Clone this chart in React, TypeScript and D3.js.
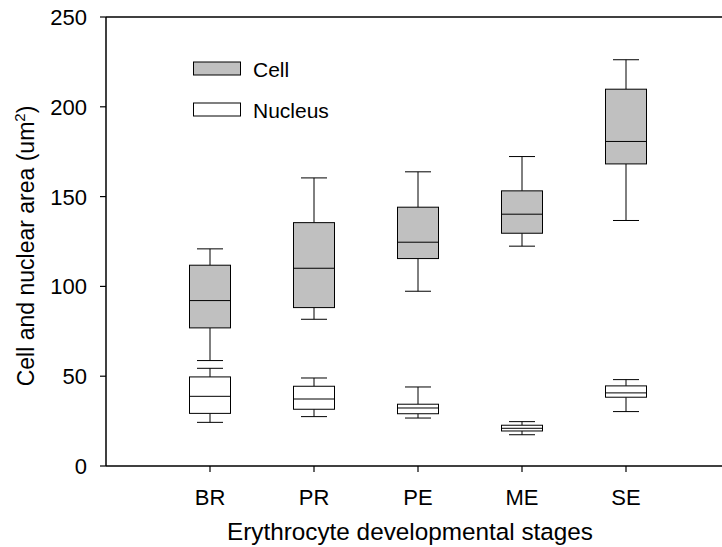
import React from "react";
import * as d3 from "d3";

const categories = ["BR", "PR", "PE", "ME", "SE"];
// [lowerWhisker, q1, median, q3, upperWhisker]
const cellStats = [
  [58.7, 76.9, 92.1, 111.8, 120.9],
  [81.7, 88.2, 110.1, 135.5, 160.4],
  [97.3, 115.5, 124.6, 144.1, 163.8],
  [122.4, 129.6, 140.2, 153.2, 172.3],
  [136.7, 168.2, 180.7, 209.8, 226.2],
];
const nucleusStats = [
  [24.3, 29.3, 38.8, 49.6, 54.4],
  [27.5, 31.6, 37.3, 44.4, 49.0],
  [26.7, 29.1, 32.3, 34.4, 44.0],
  [17.4, 19.5, 21.0, 22.7, 24.7],
  [30.3, 38.3, 40.7, 44.6, 48.1],
];
const yTicks = [0, 50, 100, 150, 200, 250];
const seriesNames = ["Cell", "Nucleus"];
const seriesFills = ["#c0c0c0", "#ffffff"];

const W = 722;
const H = 547;
const left = 106;
const top = 17;
const bottom = 466;

export default function App() {
  const x = d3.scalePoint<string>().domain(categories).range([210, 626]);
  const y = d3.scaleLinear().domain([0, 250]).range([bottom, top]);
  const boxW = 41;
  const capW = 26;
  const font = "Arial, 'Liberation Sans', sans-serif";

  const renderBoxes = (stats: number[][], fill: string, key: string) =>
    stats.map((s, i) => {
      const cx = x(categories[i])!;
      const [lo, q1, med, q3, hi] = s;
      return (
        <g key={key + i} stroke="#000" strokeWidth={1}>
          <line x1={cx} x2={cx} y1={y(hi)} y2={y(q3)} />
          <line x1={cx} x2={cx} y1={y(q1)} y2={y(lo)} />
          <line x1={cx - capW / 2} x2={cx + capW / 2} y1={y(hi)} y2={y(hi)} />
          <line x1={cx - capW / 2} x2={cx + capW / 2} y1={y(lo)} y2={y(lo)} />
          <rect x={cx - boxW / 2} y={y(q3)} width={boxW} height={y(q1) - y(q3)} fill={fill} />
          <line x1={cx - boxW / 2} x2={cx + boxW / 2} y1={y(med)} y2={y(med)} />
        </g>
      );
    });

  return (
    <svg width={W} height={H} style={{ position: "absolute", left: 0, top: 0, background: "#fff" }} fontFamily={font}>
      <rect x={0} y={0} width={W} height={H} fill="#fff" />
      {/* axes */}
      <line x1={left} x2={W} y1={top} y2={top} stroke="#000" strokeWidth={1.5} />
      <line x1={left} x2={W} y1={bottom} y2={bottom} stroke="#000" strokeWidth={1.5} />
      <line x1={left} x2={left} y1={top} y2={bottom} stroke="#000" strokeWidth={1.5} />
      {yTicks.map((t) => (
        <g key={"yt" + t}>
          <line x1={left - 6} x2={left} y1={y(t)} y2={y(t)} stroke="#000" strokeWidth={1.2} />
          <text x={87} y={y(t)} dy="0.36em" textAnchor="end" fontSize={22}>
            {t}
          </text>
        </g>
      ))}
      {categories.map((c) => (
        <g key={"xt" + c}>
          <line x1={x(c)!} x2={x(c)!} y1={bottom} y2={bottom + 6} stroke="#000" strokeWidth={1.2} />
          <text x={x(c)!} y={505} textAnchor="middle" fontSize={22}>
            {c}
          </text>
        </g>
      ))}
      <text x={410} y={540} textAnchor="middle" fontSize={24.3}>
        Erythrocyte developmental stages
      </text>
      <text transform="translate(34,246) rotate(-90)" textAnchor="middle" fontSize={23}>
        Cell and nuclear area (um
        <tspan fontSize={15} dy={-9}>2</tspan>
        <tspan dy={9}>)</tspan>
      </text>
      {renderBoxes(cellStats, seriesFills[0], "c")}
      {renderBoxes(nucleusStats, seriesFills[1], "n")}
      {/* legend */}
      {seriesNames.map((n, i) => (
        <g key={"lg" + n}>
          <rect x={193.5} y={62 + i * 41} width={47} height={13} fill={seriesFills[i]} stroke="#000" strokeWidth={1} />
          <text x={253} y={76.5 + i * 41} fontSize={21}>
            {n}
          </text>
        </g>
      ))}
    </svg>
  );
}
